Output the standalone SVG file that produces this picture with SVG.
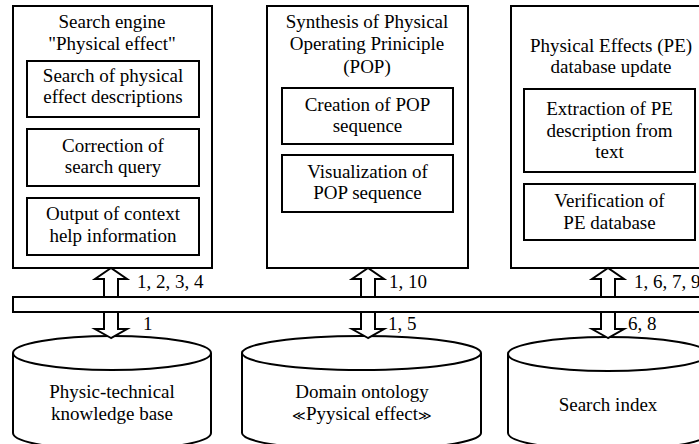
<svg xmlns="http://www.w3.org/2000/svg" width="699" height="444" viewBox="0 0 699 444" font-family="Liberation Serif, Times New Roman, Tinos, DejaVu Serif, serif" font-size="19">
  <style>
    .box { fill: #fff; stroke: #000; stroke-width: 2; }
    .arrow { fill: #fff; stroke: #000; stroke-width: 2; stroke-linejoin: miter; }
    .c { text-anchor: middle; }
  </style>
  <rect width="699" height="444" fill="#fff"/>

  <!-- Module: search engine -->
  <g id="search-engine">
    <rect class="box" x="13" y="6" width="199" height="262"/>
    <text class="c" x="112" y="28">Search engine</text>
    <text class="c" x="112" y="50">"Physical effect"</text>
    <g id="search-descriptions">
      <rect class="box" x="27" y="61" width="172" height="56"/>
      <text class="c" x="113" y="82">Search of physical</text>
      <text class="c" x="113" y="103">effect descriptions</text>
    </g>
    <g id="query-correction">
      <rect class="box" x="27" y="129" width="172" height="57"/>
      <text class="c" x="113" y="152">Correction of</text>
      <text class="c" x="113" y="173">search query</text>
    </g>
    <g id="context-help">
      <rect class="box" x="27" y="198" width="172" height="57"/>
      <text class="c" x="113" y="220">Output of context</text>
      <text class="c" x="113" y="242">help information</text>
    </g>
  </g>

  <!-- Module: POP synthesis -->
  <g id="pop-synthesis">
    <rect class="box" x="267" y="6" width="201" height="262"/>
    <text class="c" x="367" y="28">Synthesis of Physical</text>
    <text class="c" x="367" y="50">Operating Priniciple</text>
    <text class="c" x="367" y="73">(POP)</text>
    <g id="pop-creation">
      <rect class="box" x="282" y="88" width="171" height="56"/>
      <text class="c" x="367.5" y="111">Creation of POP</text>
      <text class="c" x="367.5" y="132">sequence</text>
    </g>
    <g id="pop-visualization">
      <rect class="box" x="282" y="155" width="171" height="57"/>
      <text class="c" x="367.5" y="178">Visualization of</text>
      <text class="c" x="367.5" y="199">POP sequence</text>
    </g>
  </g>

  <!-- Module: PE database update -->
  <g id="pe-update">
    <rect class="box" x="511" y="6" width="197" height="262"/>
    <text class="c" x="611" y="52">Physical Effects (PE)</text>
    <text class="c" x="611" y="73">database update</text>
    <g id="pe-extraction">
      <rect class="box" x="524" y="89" width="171" height="83"/>
      <text class="c" x="609.5" y="115">Extraction of PE</text>
      <text class="c" x="609.5" y="137">description from</text>
      <text class="c" x="609.5" y="158">text</text>
    </g>
    <g id="pe-verification">
      <rect class="box" x="524" y="184" width="171" height="56"/>
      <text class="c" x="609.5" y="207">Verification of</text>
      <text class="c" x="609.5" y="229">PE database</text>
    </g>
  </g>

  <!-- Shared bus -->
  <g id="bus">
    <rect class="box" x="13" y="297" width="700" height="15"/>
  </g>

  <!-- Storage -->
  <g id="knowledge-base">
    <path class="box" d="M13,353 L13,433 A99,17 0 0 0 211,433 L211,353"/>
    <ellipse class="box" cx="112" cy="353" rx="99" ry="17"/>
    <text class="c" x="112" y="398">Physic-technical</text>
    <text class="c" x="112" y="420">knowledge base</text>
  </g>
  <g id="domain-ontology">
    <path class="box" d="M242,353 L242,433 A119.5,17 0 0 0 481,433 L481,353"/>
    <ellipse class="box" cx="361.5" cy="353" rx="119.5" ry="17"/>
    <text class="c" x="362" y="398">Domain ontology</text>
    <text class="c" x="362" y="420"><tspan font-size="13">≪</tspan>Pyysical effect<tspan font-size="13">≫</tspan></text>
  </g>
  <g id="search-index">
    <path class="box" d="M508,354 L508,433 A100,17 0 0 0 708,433 L708,354"/>
    <ellipse class="box" cx="608" cy="354" rx="100" ry="17"/>
    <text class="c" x="608" y="411">Search index</text>
  </g>

  <!-- Connectors: block arrows between modules, bus and storage -->
  <g id="connectors">
    <polygon class="arrow" points="111,268 95,279 104,279 104,297 118,297 118,279 127,279"/>
    <polygon class="arrow" points="111,338 95,329 104,329 104,312 118,312 118,329 127,329"/>
    <polygon class="arrow" points="368,268 352,279 361,279 361,297 375,297 375,279 384,279"/>
    <polygon class="arrow" points="368,338 352,329 361,329 361,312 375,312 375,329 384,329"/>
    <polygon class="arrow" points="608,268 592,279 601,279 601,297 615,297 615,279 624,279"/>
    <polygon class="arrow" points="608,338 592,329 601,329 601,312 615,312 615,329 624,329"/>
    <text x="137" y="288">1, 2, 3, 4</text>
    <text x="143" y="330">1</text>
    <text x="389" y="288">1, 10</text>
    <text x="388" y="330">1, 5</text>
    <text x="634" y="288">1, 6, 7, 9</text>
    <text x="628" y="330">6, 8</text>
  </g>
</svg>
